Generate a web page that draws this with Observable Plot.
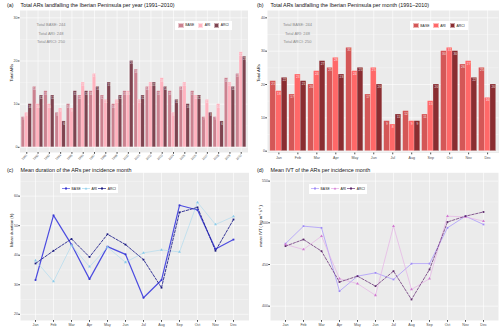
<!DOCTYPE html>
<html><head><meta charset="utf-8">
<script src="https://cdn.jsdelivr.net/npm/d3@7"></script>
<script src="https://cdn.jsdelivr.net/npm/@observablehq/plot@0.6"></script>
<style>
html,body{margin:0;padding:0;background:#fff}
#fig{position:relative;width:500px;height:330px;overflow:hidden;font-family:"Liberation Sans",Arial,sans-serif}
.p{position:absolute}
.t{position:absolute;font-size:5.4px;line-height:6px;white-space:nowrap;color:#111}
.lg{position:absolute;background:#fff;display:flex;align-items:center;justify-content:space-around;padding:0 1.5px;font-size:3.4px;color:#222;box-sizing:border-box}
.lg .it{display:flex;align-items:center;gap:1.5px}
.sw{display:inline-block;width:5.5px;height:5.5px;box-sizing:border-box;border:0.5px solid rgba(255,255,255,0.55)}
</style></head>
<body><div id="fig"></div>
<script>
const seriesNames = ["BASE", "ARI", "ARCI"];

const years = ["1991","1992","1993","1994","1995","1996","1997","1998","1999","2000",
               "2001","2002","2003","2004","2005","2006","2007","2008","2009","2010"];
const yearBASE = [7,14,13,8,10,12,13,12,10,13,18,14,13,13,14,13,7,7,16,17];
const yearARI  = [8,10,10,9,9,15,17,11,11,13,11,15,16,8,15,12,11,10,15,22];
const yearARCI = [10,12,12,6,13,13,14,15,12,20,12,15,14,11,10,12,8,6,14,21];

const months = ["Jan","Feb","Mar","Apr","May","Jun","Jul","Aug","Sep","Oct","Nov","Dec"];
const monthBASE = [21,17,20,25,31,17,9,12,11,30,26,25];
const monthARI  = [18,23,24,28,24,25,8,9,15,31,27,16];
const monthARCI = [22,21,27,23,25,20,11,9,20,30,22,20];

const durBASE = [31.6,53.5,43.6,31.9,42.9,40.3,25.6,31.6,56.9,55.3,42.1,45.3];
const durARI  = [38.2,31.1,43.3,36.1,42.7,37.6,40.8,41.8,41.1,57.9,50.4,53.1];
const durARCI = [37.2,41.5,45.5,39.4,47.1,43.6,38.5,29.0,54.5,56.2,41.5,52.1];

const ivtBASE = [475,496,494,418,436,440,432,451,451,494,508,498];
const ivtARI  = [474,468,484,433,427,413,496,420,433,508,507,502];
const ivtARCI = [472,480,466,429,436,424,442,408,444,501,508,513];

const countTicksA = [0,10,20,30];
const countMinorA = [5,15,25];
const countTicksB = [0,10,20,30,40];
const countMinorB = [5,15,25,35];
const durTicks = [20,30,40,50,60];
const durMinor = [25,35,45,55,65];
const ivtTicks = [400,450,500,550];
const ivtMinor = [425,475,525];

const colA = ["#CB8290","#FFB3BF","#7E4450"];
const colB = ["#D45757","#FF6868","#8A2D31"];
const colC = ["#4C4CE0","#A8D8EE","#23238C"];
const colD = ["#AC9AFB","#E4A8E4","#6B3479"];
const dotC = ["#3838D0","#8CCDEB","#1B1B80"];
const dotD = ["#A08CF5","#D27AD2","#5E2A6C"];

const FONT = "Liberation Sans, Arial, sans-serif";
const fig = document.getElementById("fig");

function place(node, left, top) {
  node.classList.add("p");
  node.style.left = left + "px";
  node.style.top = top + "px";
  fig.appendChild(node);
}
function title(tag, text, left, top) {
  const a = document.createElement("div"); a.className = "t"; a.textContent = tag;
  a.style.left = left + "px"; a.style.top = top + "px";
  fig.appendChild(a);
  const b = document.createElement("div"); b.className = "t"; b.textContent = text;
  b.style.left = (left + 13.5) + "px"; b.style.top = top + "px";
  fig.appendChild(b);
}
function legend(left, top, w, h, colors, kind, dots) {
  const lg = document.createElement("div");
  lg.className = "lg";
  Object.assign(lg.style, {left: left + "px", top: top + "px", width: w + "px", height: h + "px"});
  seriesNames.forEach((s, j) => {
    const it = document.createElement("div"); it.className = "it";
    let key;
    if (kind === "bar") {
      key = `<span class="sw" style="background:${colors[j]}"></span>`;
    } else {
      const sym = j === 1
        ? `<path d="M4,1.3 L5.3,3.6 L2.7,3.6 Z" fill="${dots[j]}"/>`
        : `<rect x="3" y="1.5" width="2" height="2" fill="${dots[j]}"/>`;
      key = `<svg width="8" height="5" style="display:block"><line x1="0" x2="8" y1="2.5" y2="2.5" stroke="${colors[j]}" stroke-width="0.7"/>${sym}</svg>`;
    }
    it.innerHTML = key + `<span>${s}</span>`;
    lg.appendChild(it);
  });
  fig.appendChild(lg);
}

function barPanel(o) {
  const n = o.cats.length;
  const idx = o.cats.map((c, i) => i);
  const rows = [];
  o.cats.forEach((c, i) => seriesNames.forEach((s, j) => rows.push({i, j, cat: c, series: s, value: o.arrs[j][i]})));
  const totals = seriesNames.map((s, j) => `Total ${s}: ${d3.sum(o.arrs[j])}`).join("\n");
  return Plot.plot({
    width: 250, height: 165,
    marginTop: o.mt, marginBottom: o.mb, marginLeft: o.ml, marginRight: o.mr,
    style: {fontFamily: FONT, background: "transparent", overflow: "visible"},
    x: {type: "linear", domain: [-0.6, n - 0.4]},
    y: {domain: o.yDomain},
    color: {domain: seriesNames, range: o.colors},
    marks: [
      Plot.frame({fill: "#EBEBEB", stroke: "none"}),
      Plot.gridY({ticks: o.minor, stroke: "#fff", strokeOpacity: 1, strokeWidth: 0.3}),
      Plot.gridY({ticks: o.yTicks, stroke: "#fff", strokeOpacity: 1, strokeWidth: 0.6}),
      Plot.gridX({ticks: idx, stroke: "#fff", strokeOpacity: 1, strokeWidth: 0.6}),
      Plot.rectY(rows, {
        x1: d => d.i - 0.45 + d.j * 0.3, x2: d => d.i - 0.15 + d.j * 0.3,
        y1: 0, y2: "value", fill: "series",
        stroke: "#fff", strokeOpacity: 0.35, strokeWidth: 0.5
      }),
      Plot.text(rows, {
        x: d => d.i - 0.3 + d.j * 0.3, y: "value", text: d => String(d.value),
        dy: 1.2, lineAnchor: "top", fill: "#f4f4f4", fillOpacity: 0.9, fontSize: o.valSize
      }),
      Plot.text([totals], {
        frameAnchor: "top-left", dx: o.totDx, dy: o.totDy, textAnchor: "middle", lineAnchor: "top",
        lineHeight: 2.15, fill: "#8a8a8a", fontSize: 4
      }),
      Plot.axisY({ticks: o.yTicks, tickSize: 1.8, tickPadding: 0.8, fontSize: 3.6, color: "#4D4D4D", label: null}),
      Plot.axisX({
        ticks: idx, tickFormat: i => o.cats[i], tickSize: 1.8, tickPadding: o.xPad,
        tickRotate: o.rotate, fontSize: o.xSize, color: "#4D4D4D", label: null
      }),
      Plot.text([o.yTitle], {frameAnchor: "left", rotate: -90, dx: o.ytDx, fontSize: 4.2, fill: "#111"})
    ]
  });
}

function linePanel(o) {
  const rows = [];
  seriesNames.forEach((s, j) => o.cats.forEach((c, i) => rows.push({cat: c, series: s, value: o.arrs[j][i]})));
  const sub = s => rows.filter(d => d.series === s);
  return Plot.plot({
    width: 250, height: 165,
    marginTop: o.mt, marginBottom: o.mb, marginLeft: o.ml, marginRight: o.mr,
    style: {fontFamily: FONT, background: "transparent", overflow: "visible"},
    x: {type: "point", domain: o.cats, padding: 0.6},
    y: {domain: o.yDomain},
    marks: [
      Plot.frame({fill: "#EBEBEB", stroke: "none"}),
      Plot.gridY({ticks: o.minor, stroke: "#fff", strokeOpacity: 1, strokeWidth: 0.3}),
      Plot.gridY({ticks: o.yTicks, stroke: "#fff", strokeOpacity: 1, strokeWidth: 0.6}),
      Plot.gridX({stroke: "#fff", strokeOpacity: 1, strokeWidth: 0.6}),
      ...seriesNames.map((s, j) => Plot.line(sub(s), {
        x: "cat", y: "value", stroke: o.colors[j], strokeWidth: o.widths[j], strokeDasharray: o.dash[j]
      })),
      ...seriesNames.map((s, j) => Plot.dot(sub(s), {
        x: "cat", y: "value", fill: o.dots[j], r: j === 1 ? 1.1 : 1.0,
        symbol: j === 1 ? "triangle" : "square"
      })),
      Plot.axisY({ticks: o.yTicks, tickSize: 1.8, tickPadding: 0.8, fontSize: 3.6, color: "#4D4D4D", label: null}),
      Plot.axisX({tickSize: 1.8, tickPadding: 1, fontSize: 3.6, color: "#4D4D4D", label: null}),
      Plot.text([o.yTitle], {frameAnchor: "left", rotate: -90, dx: o.ytDx, fontSize: 4.2, fill: "#111"})
    ]
  });
}

// (a)
place(barPanel({
  cats: years, arrs: [yearBASE, yearARI, yearARCI], colors: colA,
  yDomain: [-1.2, 31.7], yTicks: countTicksA, minor: countMinorA,
  mt: 10, mb: 13, ml: 19.5, mr: 2.5, rotate: -45, xSize: 3.0, xPad: 0.5,
  valSize: 3.0, totDx: 31, totDy: 9.5, ytDx: -8.5, yTitle: "Total ARs"
}), 0, 0);
title("(a)", "Total ARs landfalling the Iberian Peninsula per year (1991–2010)", 7, 1.5);
legend(175, 21, 57, 8.5, colA, "bar");

// (b)
place(barPanel({
  cats: months, arrs: [monthBASE, monthARI, monthARCI], colors: colB,
  yDomain: [-0.55, 42.2], yTicks: countTicksB, minor: countMinorB,
  mt: 10, mb: 12.5, ml: 17, mr: 1.5, rotate: 0, xSize: 3.6, xPad: 1.5,
  valSize: 3.4, totDx: 30, totDy: 9.5, ytDx: -9, yTitle: "Total ARs"
}), 250, 0);
title("(b)", "Total ARs landfalling the Iberian Peninsula per month (1991–2010)", 257, 1.5);
legend(410, 21, 58, 9, colB, "bar");

// (c)
place(linePanel({
  cats: months, arrs: [durBASE, durARI, durARCI], colors: colC, dots: dotC,
  widths: [1.2, 0.6, 0.9], dash: [null, null, "2.5,1.5"],
  yDomain: [17.9, 67.9], yTicks: durTicks, minor: durMinor,
  mt: 7.3, mb: 10, ml: 20, mr: 1.5, ytDx: -9, yTitle: "Mean duration (h)"
}), 0, 165);
title("(c)", "Mean duration of the ARs per incidence month", 7, 166.5);
legend(60, 184, 58, 9, colC, "line", dotC);

// (d)
place(linePanel({
  cats: months, arrs: [ivtBASE, ivtARI, ivtARCI], colors: colD, dots: dotD,
  widths: [0.8, 0.6, 0.8], dash: [null, null, "2.5,1.5"],
  yDomain: [382.8, 560], yTicks: ivtTicks, minor: ivtMinor,
  mt: 7.3, mb: 10, ml: 20, mr: 2, ytDx: -10, yTitle: "mean IVT ( kg m⁻¹ s⁻¹ )"
}), 250, 165);
title("(d)", "Mean IVT of the ARs per incidence month", 257, 166.5);
legend(309, 184, 58, 9.5, colD, "line", dotD);
</script>
</body></html>
